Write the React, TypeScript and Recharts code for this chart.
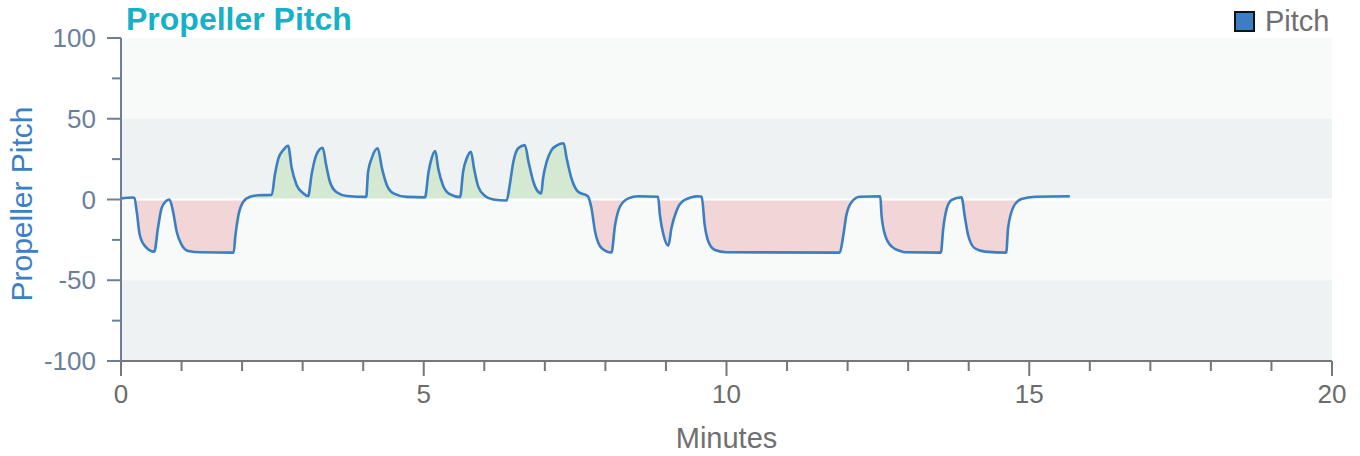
import React from "react"
import {
  ComposedChart,
  Area,
  Line,
  XAxis,
  YAxis,
  ReferenceArea,
  ReferenceLine,
} from "recharts"

// time in minutes and propeller pitch
const minutes = [
  0.0, 0.2, 0.22, 0.26, 0.31, 0.4, 0.55, 0.61, 0.67, 0.75, 0.8, 0.86, 0.92, 1.0, 1.11, 1.33, 1.86,
  1.89, 1.94, 2.02, 2.13, 2.27, 2.49, 2.54, 2.6, 2.68, 2.76, 2.82, 2.9, 3.01, 3.09,
  3.15, 3.23, 3.33, 3.39, 3.45, 3.56, 3.73, 4.05,
  4.08, 4.14, 4.24, 4.31, 4.39, 4.5, 4.72, 5.02,
  5.08, 5.13, 5.19, 5.24, 5.32, 5.43, 5.6,
  5.65, 5.71, 5.78, 5.83, 5.9, 6.01, 6.15, 6.37,
  6.42, 6.48, 6.56, 6.67, 6.73, 6.81, 6.89, 6.94,
  6.97, 7.03, 7.11, 7.2, 7.31, 7.36, 7.44, 7.55, 7.71,
  7.77, 7.83, 7.94, 8.1, 8.16, 8.24, 8.38, 8.54, 8.87,
  8.9, 8.96, 9.04, 9.09, 9.18, 9.31, 9.53,
  9.59, 9.64, 9.7, 9.81, 10.0, 11.87,
  11.93, 11.98, 12.07, 12.2, 12.54,
  12.56, 12.62, 12.73, 12.87, 12.95, 13.54,
  13.58, 13.64, 13.72, 13.88,
  13.94, 13.99, 14.1, 14.27, 14.62,
  14.65, 14.74, 14.87, 15.1, 15.67,
]
const pitch = [
  0.7, 1.2, 1.0, -7.5, -22, -29, -32.3, -17.8, -5.4, -0.8, 0.0, -7.5, -20, -28, -31.9, -32.7, -32.9,
  -22, -9.6, -1.4, 1.7, 2.6, 2.8, 15, 25.5, 30.6, 33.3, 19.3, 9, 3.8, 2.0,
  16, 28, 32, 21, 11, 4.5, 2.2, 1.6,
  17, 25.5, 31.7, 19.3, 9, 3.8, 1.6, 1.3,
  17.2, 25.5, 30, 19, 8.5, 3.3, 1.5,
  17.2, 25.5, 29.6, 19.3, 8, 2.2, 0, -0.6,
  9, 23.4, 31.7, 33.7, 23.4, 11, 4.8, 3.8,
  13, 23.4, 30.6, 33.5, 34.8, 25.5, 13, 4.8, 2.0,
  -5.4, -20, -30.2, -32.8, -15.8, -4.5, 0.7, 2.0, 1.7,
  -9.6, -22, -28.6, -17.8, -6.5, -0.3, 2.0,
  1.7, -15.8, -26, -31.3, -32.7, -32.9,
  -22, -9.6, -1.4, 1.7, 2.0,
  -9.6, -22, -29.2, -31.9, -32.7, -32.9,
  -17.8, -5.4, -0.3, 1.4,
  -11.6, -22, -30.2, -32.3, -32.9,
  -17.8, -4.5, 0.3, 1.7, 2.0,
]

const xTicks = Array.from({ length: 21 }, (_, i) => i)
const yTicks = [-100, -75, -50, -25, 0, 25, 50, 75, 100]

const FONT = '"Liberation Sans", Arial, Helvetica, sans-serif'
const lineColor = "#3b7ec2"
const yAxisColor = "#6a7f9a"
const xAxisColor = "#777777"

const YTick = (props: any) => {
  const { x, y, payload } = props
  const major = payload.value % 50 === 0
  const ax = x + 25
  return (
    <g>
      <line x1={ax - (major ? 14 : 9)} x2={ax} y1={y} y2={y} stroke={yAxisColor} strokeWidth={2} />
      {major && (
        <text x={x} y={y} dy="0.355em" textAnchor="end" fontSize={26} fill={yAxisColor} fontFamily={FONT}>
          {payload.value}
        </text>
      )}
    </g>
  )
}

const XTick = (props: any) => {
  const { x, y, payload } = props
  const major = payload.value % 5 === 0
  const ay = y - 24
  return (
    <g>
      <line x1={x} x2={x} y1={ay} y2={ay + (major ? 15 : 10)} stroke={xAxisColor} strokeWidth={2} />
      {major && (
        <text x={x} y={y} dy="0.71em" textAnchor="middle" fontSize={26} fill="#6b6b6b" fontFamily={FONT}>
          {payload.value}
        </text>
      )}
    </g>
  )
}

export default function App() {
  const rows = minutes.map((t, i) => ({ t, p: pitch[i] }))
  const hi = Math.max(...pitch)
  const lo = Math.min(...pitch)
  const split = hi / (hi - lo)

  return (
    <div style={{ position: "absolute", left: 0, top: 0, width: 1360, height: 456, fontFamily: FONT }}>
      <ComposedChart width={1360} height={456} data={rows} margin={{ top: 38, right: 28, bottom: 0, left: 0 }}>
        <defs>
          <linearGradient id="pitchSplit" x1="0" y1="0" x2="0" y2="1">
            <stop offset={split} stopColor="#d5e8d1" />
            <stop offset={split} stopColor="#f1d5d7" />
          </linearGradient>
        </defs>
        <ReferenceArea y1={50} y2={100} fill="#f8fafa" fillOpacity={1} stroke="none" />
        <ReferenceArea y1={0} y2={50} fill="#eef2f3" fillOpacity={1} stroke="none" />
        <ReferenceArea y1={-50} y2={0} fill="#f8fafa" fillOpacity={1} stroke="none" />
        <ReferenceArea y1={-100} y2={-50} fill="#eef2f3" fillOpacity={1} stroke="none" />
        <XAxis
          type="number"
          dataKey="t"
          domain={[0, 20]}
          ticks={xTicks}
          interval={0}
          height={95}
          tickSize={14}
          tickMargin={10}
          tickLine={false}
          tick={<XTick />}
          axisLine={{ stroke: xAxisColor, strokeWidth: 2 }}
          label={{ value: "Minutes", position: "insideBottom", offset: 8, fontSize: 29, fill: "#707070" }}
        />
        <YAxis
          type="number"
          domain={[-100, 100]}
          ticks={yTicks}
          interval={0}
          width={121}
          tickSize={14}
          tickMargin={11}
          tickLine={false}
          tick={<YTick />}
          axisLine={{ stroke: yAxisColor, strokeWidth: 2 }}
        />
        <Area
          dataKey="p"
          type="monotone"
          stroke="none"
          fill="url(#pitchSplit)"
          fillOpacity={1}
          baseValue={0}
          isAnimationActive={false}
        />
        <ReferenceLine y={0} stroke="#ffffff" strokeWidth={2} />
        <Line
          dataKey="p"
          type="monotone"
          stroke={lineColor}
          strokeWidth={2.6}
          dot={false}
          activeDot={false}
          isAnimationActive={false}
        />
      </ComposedChart>

      <div
        style={{
          position: "absolute",
          left: 126,
          top: 4,
          fontSize: 32,
          lineHeight: "30px",
          fontWeight: "bold",
          color: "#14b1c8",
          whiteSpace: "nowrap",
        }}
      >
        Propeller Pitch
      </div>

      <div
        style={{
          position: "absolute",
          left: 22,
          top: 204,
          fontSize: 30,
          lineHeight: "30px",
          color: "#3d7fc4",
          whiteSpace: "nowrap",
          transform: "translate(-50%, -50%) rotate(-90deg)",
        }}
      >
        Propeller Pitch
      </div>

      <div style={{ position: "absolute", left: 1234, top: 10, display: "flex", alignItems: "center" }}>
        <div
          style={{
            width: 17,
            height: 17,
            background: lineColor,
            border: "2px solid #111111",
          }}
        />
        <span style={{ marginLeft: 10, fontSize: 29, lineHeight: "22px", color: "#6f6f6f" }}>Pitch</span>
      </div>
    </div>
  )
}
